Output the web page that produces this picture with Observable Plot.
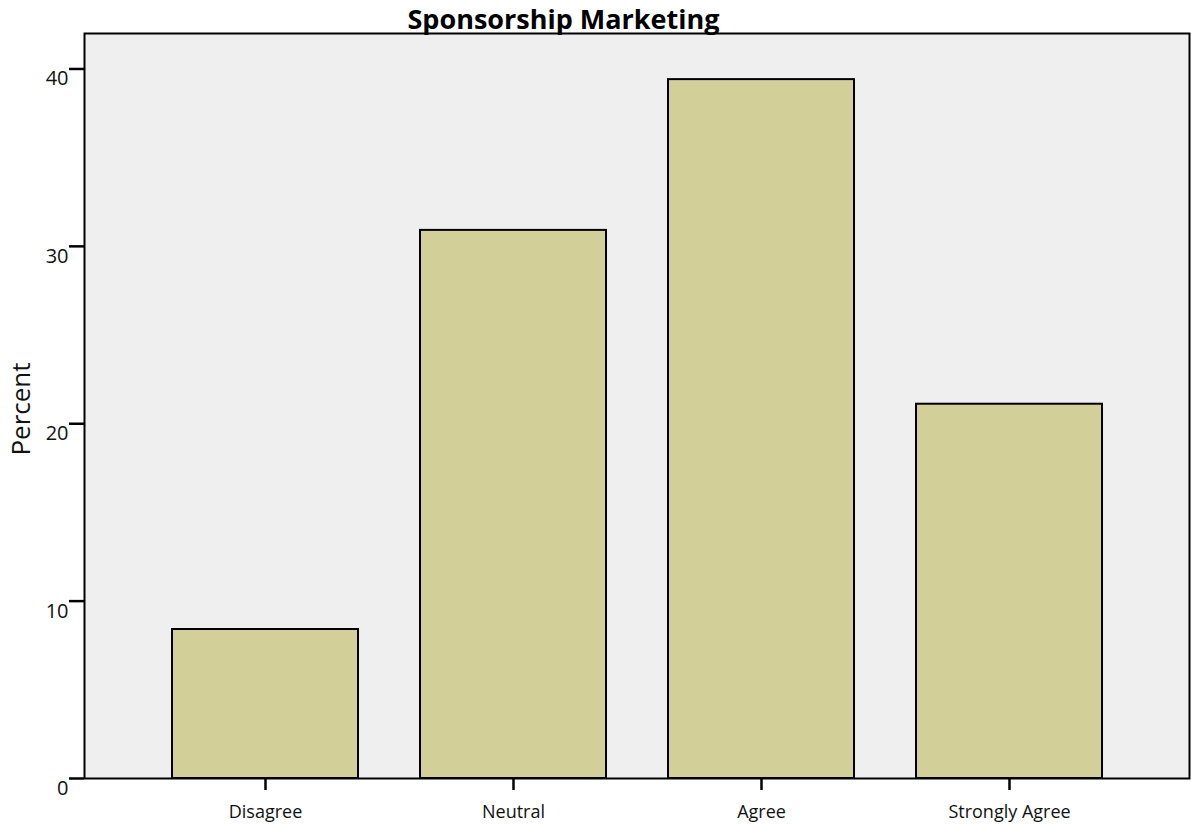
<!DOCTYPE html>
<html>
<head>
<meta charset="utf-8">
<script src="https://cdn.jsdelivr.net/npm/d3@7"></script>
<script src="https://cdn.jsdelivr.net/npm/@observablehq/plot@0.6"></script>
<style>
  html, body { margin: 0; padding: 0; background: #ffffff; }
  #chart svg { display: block; }
</style>
</head>
<body>
<div id="chart"></div>
<script>
const categories = ["Disagree", "Neutral", "Agree", "Strongly Agree"];
const percents = [8.4, 30.9, 39.4, 21.1];
const yTicks = [0, 10, 20, 30, 40];
const title = "Sponsorship Marketing";
const yLabel = "Percent";

const data = categories.map((c, i) => ({category: c, percent: percents[i]}));

const chart = Plot.plot({
  width: 1191,
  height: 830,
  marginLeft: 84,
  marginRight: 2,
  marginTop: 33,
  marginBottom: 52,
  style: {fontFamily: "'Open Sans', sans-serif", background: "#ffffff", color: "#000"},
  x: {domain: categories, paddingInner: 0.25, paddingOuter: 0.35, align: 0.5},
  y: {domain: [0, 42]},
  marks: [
    Plot.frame({fill: "#efefef", stroke: "none"}),
    Plot.barY(data, {x: "category", y: "percent", fill: "#d3cf98", stroke: "#000", strokeWidth: 2}),
    Plot.frame({stroke: "#000", strokeWidth: 2}),
    // y tick marks (no labels)
    Plot.axisY({ticks: yTicks, tickSize: 15, tickFormat: () => "", strokeWidth: 2.5, label: null}),
    // y tick labels, hanging slightly below their ticks
    Plot.axisY({ticks: yTicks, tickSize: 0, tickPadding: 16, fontSize: 20, dy: 10, label: null, fill: "#111", stroke: "none"}),
    Plot.axisX({tickSize: 12, tickPadding: 15, fontSize: 18, strokeWidth: 2.5, label: null, fill: "#111"}),
    Plot.text([yLabel], {frameAnchor: "left", textAnchor: "middle", dx: -63, dy: 3, rotate: -90, fontSize: 26, fill: "#111"}),
    Plot.text([title], {frameAnchor: "top-left", dx: 479, dy: -24, textAnchor: "middle", fontSize: 27, fontWeight: "bold", fill: "#000"})
  ]
});
document.getElementById("chart").appendChild(chart);
</script>
</body>
</html>
